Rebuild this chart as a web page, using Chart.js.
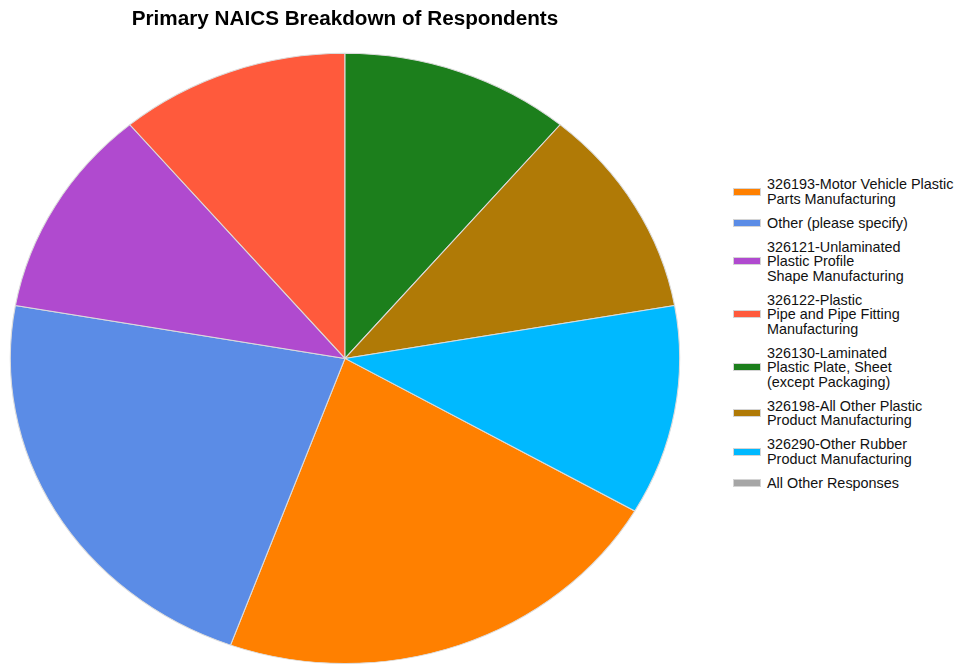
<!DOCTYPE html>
<html>
<head>
<meta charset="utf-8">
<script src="https://cdn.jsdelivr.net/npm/chart.js@4.4.1/dist/chart.umd.min.js"></script>
<style>
  html, body { margin: 0; padding: 0; background: #fff; }
  #wrap { position: relative; width: 956px; height: 664px; }
  #pieBox { position: absolute; left: 0; top: 0; width: 690px; height: 664px; }
  #legend {
    position: absolute; left: 733px; top: 177px;
    font-family: "Liberation Sans", Arial, sans-serif; font-size: 14.4px;
    line-height: 14.5px; color: #111;
  }
  .item { display: flex; align-items: center; margin-bottom: 9.5px; }
  .swatch { width: 26px; height: 6px; border: 1px solid #d4d4d4; margin-right: 6px; flex: none; }
</style>
</head>
<body>
<div id="wrap">
  <div id="pieBox"><canvas id="pie"></canvas></div>
  <div id="legend"></div>
</div>
<script>
// Respondents per primary NAICS code
const categories = [
    ['326193-Motor Vehicle Plastic', 'Parts Manufacturing'],
    ['Other (please specify)'],
    ['326121-Unlaminated', 'Plastic Profile', 'Shape Manufacturing'],
    ['326122-Plastic', 'Pipe and Pipe Fitting', 'Manufacturing'],
    ['326130-Laminated', 'Plastic Plate, Sheet', '(except Packaging)'],
    ['326198-All Other Plastic', 'Product Manufacturing'],
    ['326290-Other Rubber', 'Product Manufacturing'],
    ['All Other Responses']
];
const respondents = [2, 2, 1, 1, 1, 1, 1, 0];
const sliceColors = ['#ff8000', '#5b8ce6', '#b04acf', '#ff5a3c', '#1c7f1c', '#b07a06', '#00b9ff', '#a6a6a6'];

// the pie is drawn a little wider than tall
const stretchX = 1.097;
const ellipsePlugin = {
    id: 'ellipse',
    beforeDatasetsDraw(chart) {
        const meta = chart.getDatasetMeta(0);
        const arc = meta.data[0];
        if (!arc) return;
        const ctx = chart.ctx;
        ctx.save();
        ctx.translate(arc.x, arc.y);
        ctx.scale(stretchX, 1);
        ctx.translate(-arc.x, -arc.y);
    },
    afterDatasetsDraw(chart) {
        if (chart.getDatasetMeta(0).data[0]) chart.ctx.restore();
    }
};

new Chart(document.getElementById('pie'), {
    type: 'pie',
    data: {
        labels: categories,
        datasets: [{
            data: respondents,
            backgroundColor: sliceColors,
            borderColor: '#dcdcdc',
            borderWidth: 1,
            hoverOffset: 0
        }]
    },
    options: {
        responsive: true,
        maintainAspectRatio: false,
        animation: false,
        rotation: 120,
        layout: { padding: { top: 0, bottom: 0, left: 0, right: 0 } },
        plugins: {
            legend: { display: false },
            tooltip: { enabled: false },
            title: {
                display: true,
                text: 'Primary NAICS Breakdown of Respondents',
                color: '#000',
                font: { family: '"Liberation Sans", Arial, sans-serif', size: 20.7, weight: 'bold' },
                padding: { top: 7, bottom: 21 }
            }
        }
    },
    plugins: [ellipsePlugin]
});

// Legend beside the pie
const legendEl = document.getElementById('legend');
categories.forEach((lines, i) => {
    const row = document.createElement('div');
    row.className = 'item';
    const sw = document.createElement('span');
    sw.className = 'swatch';
    sw.style.background = sliceColors[i];
    const txt = document.createElement('span');
    txt.innerHTML = lines.join('<br>');
    row.appendChild(sw);
    row.appendChild(txt);
    legendEl.appendChild(row);
});
</script>
</body>
</html>
